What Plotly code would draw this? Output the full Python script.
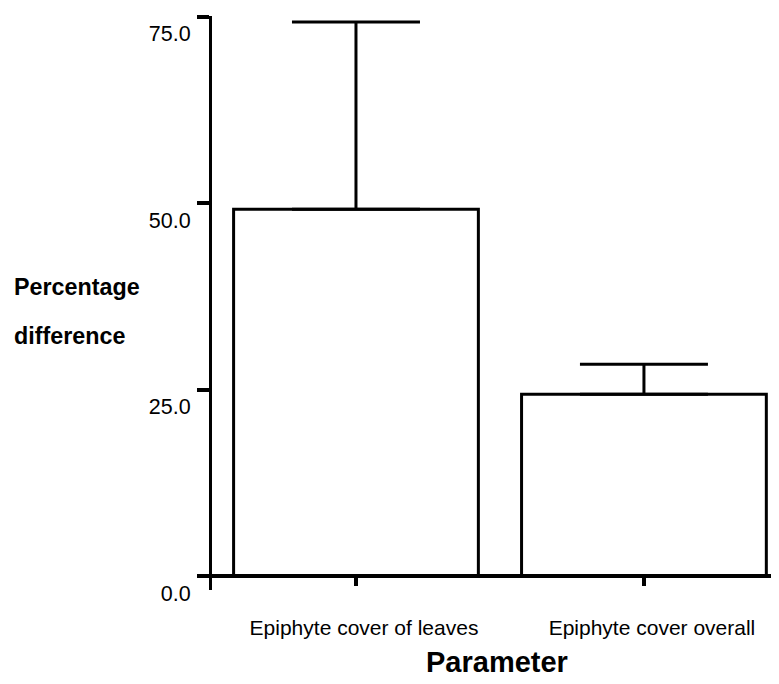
import plotly.graph_objects as go

categories = ["Epiphyte cover of leaves", "Epiphyte cover overall"]
means = [49.2, 24.4]
errors_up = [25.1, 4.0]
y_tickvals = [0, 25, 50, 75]
y_ticktext = ["0.0", "25.0", "50.0", "75.0"]

OFF = 8  # default page body margin
W, H = 779 - OFF, 684 - OFF
ML, MR, MT = 212 - OFF, 0, 16 - OFF
PLOT_BOTTOM = 590 - OFF
MB = H - PLOT_BOTTOM
PW, PH = W - ML - MR, H - MT - MB
Y0, Y1 = -1.85, 75.1

def px_x(px):
    return (px - OFF - ML) / PW

def px_y(py):
    return (PLOT_BOTTOM - (py - OFF)) / PH

FONT = "Liberation Sans, Arial, Helvetica, sans-serif"

fig = go.Figure()
fig.add_trace(go.Bar(
    x=list(range(len(categories))),
    y=means,
    width=0.85,
    marker=dict(color="white", line=dict(color="black", width=3)),
    error_y=dict(type="data", symmetric=False, array=errors_up,
                 arrayminus=[0] * len(means), color="black",
                 thickness=3, width=64),
    showlegend=False,
))

fig.update_layout(
    width=W, height=H,
    margin=dict(l=ML, r=MR, t=MT, b=MB, pad=0),
    paper_bgcolor="white", plot_bgcolor="white",
    font=dict(family=FONT, color="black"),
    xaxis=dict(
        range=[-0.5, 1.469],
        tickvals=list(range(len(categories))),
        ticktext=categories,
        anchor="free", position=px_y(576),
        showline=True, linecolor="black", linewidth=4,
        ticks="outside", ticklen=8, tickwidth=4, tickcolor="black",
        tickfont=dict(size=21, family=FONT),
        ticklabelshift=8, ticklabelstandoff=24,
        showgrid=False, zeroline=False,
    ),
    yaxis=dict(
        range=[Y0, Y1],
        tickvals=y_tickvals, ticktext=y_ticktext,
        showline=True, linecolor="black", linewidth=3,
        ticks="outside", ticklen=12, tickwidth=4, tickcolor="black",
        tickfont=dict(size=21.5, family=FONT),
        ticklabelshift=17, ticklabelstandoff=2,
        showgrid=False, zeroline=False,
    ),
    annotations=[
        dict(text="<b>Percentage</b>", xref="paper", yref="paper",
             x=px_x(12), y=px_y(287), xanchor="left", yanchor="middle",
             showarrow=False, font=dict(size=23.3, family=FONT)),
        dict(text="<b>difference</b>", xref="paper", yref="paper",
             x=px_x(12), y=px_y(336), xanchor="left", yanchor="middle",
             showarrow=False, font=dict(size=23.3, family=FONT)),
        dict(text="<b>Parameter</b>", xref="paper", yref="paper",
             x=px_x(497), y=px_y(662), xanchor="center", yanchor="middle",
             showarrow=False, font=dict(size=29, family=FONT)),
    ],
)

fig.write_html("out.html")
